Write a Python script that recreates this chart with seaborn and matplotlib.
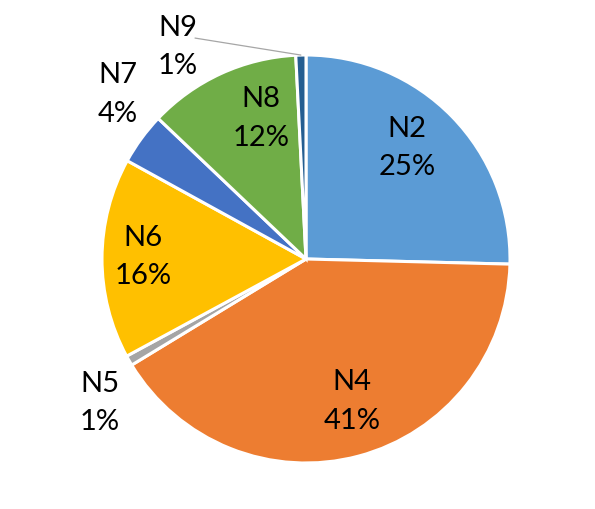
import numpy as np
import matplotlib
matplotlib.use("Agg")
import matplotlib.pyplot as plt
import seaborn as sns

# ---- data ----
categories = ["N2", "N4", "N5", "N6", "N7", "N8", "N9"]
values = [25.4, 40.9, 0.8, 15.9, 4.1, 12.1, 0.8]
colors = ["#5B9BD5", "#ED7D31", "#A5A5A5", "#FFC000", "#4472C4", "#70AD47", "#255E91"]

# ---- layout (label centres in data units, pie radius = 1) ----
label_pos = {
    "N2": (0.495, 0.545),
    "N4": (0.225, -0.700),
    "N5": (-1.010, -0.705),
    "N6": (-0.800, 0.010),
    "N7": (-0.922, 0.805),
    "N8": (-0.221, 0.690),
    "N9": (-0.627, 1.040),
}

sns.set_theme(style="white")
plt.rcParams["font.family"] = ["Lato", "DejaVu Sans"]
palette = sns.color_palette(colors)

W, H = 595, 509
cx, cy, R = 306, 259, 204
fig = plt.figure(figsize=(W / 100, H / 100), dpi=100)
ax = fig.add_axes([0, 0, 1, 1])

wedges, _ = ax.pie(values, colors=palette, startangle=90, counterclock=False,
                   radius=1, center=(0, 0), frame=True,
                   wedgeprops=dict(edgecolor="white", linewidth=2.2))
ax.set_xlim(-cx / R, (W - cx) / R)
ax.set_ylim(-(H - cy) / R, cy / R)
ax.set_aspect("auto")
ax.set_axis_off()

total = sum(values)
for cat, v, w in zip(categories, values, wedges):
    x, y = label_pos[cat]
    ax.text(x, y, f"{cat}\n{v / total * 100:.0f}%", ha="center", va="center",
            fontsize=21, color="black", linespacing=1.6)

# leader line for N9
w9 = wedges[categories.index("N9")]
mid = np.deg2rad((w9.theta1 + w9.theta2) / 2)
ex, ey = np.cos(mid) * 1.0, np.sin(mid) * 1.0
ax.plot([-0.544, ex], [1.083, ey], color="#A6A6A6", linewidth=0.9)

fig.savefig("out.png", dpi=100)
